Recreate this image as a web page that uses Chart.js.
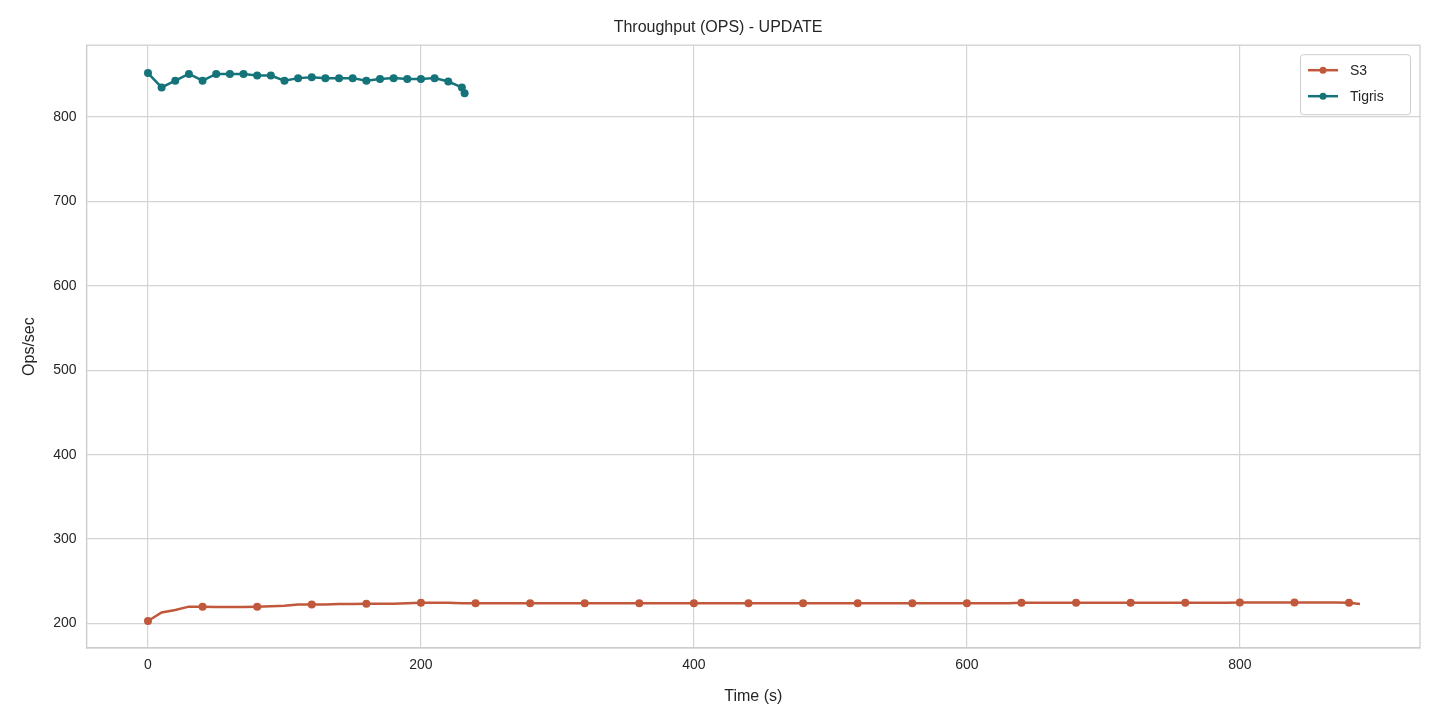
<!DOCTYPE html>
<html>
<head>
<meta charset="utf-8">
<script src="https://cdn.jsdelivr.net/npm/chart.js@4/dist/chart.umd.min.js"></script>
<style>
  html, body { margin: 0; padding: 0; background: #fff; }
  #wrap { width: 1440px; height: 720px; }
</style>
</head>
<body>
<div id="wrap"><canvas id="chart"></canvas></div>
<script>
// Tigris: samples every 10 s, last one at 232 s
const tigrisTime = [0, 10, 20, 30, 40, 50, 60, 70, 80, 90, 100, 110, 120, 130, 140, 150, 160, 170, 180, 190, 200, 210, 220, 230, 232];
const tigrisOps = [852, 835, 843, 851, 843, 851, 851, 851, 849, 849, 843, 846, 847, 846, 846, 846, 843, 845, 846, 845, 845, 846, 842, 835, 828];

// S3: samples every 10 s from 0 to 880, plus final at 888
const s3Ops = [
  203, 213, 216, 220, 220, 219.5, 219.5, 219.5, 220, 220.5,
  221, 222.5, 222.5, 222.5, 223, 223, 223.5, 223.5, 223.5, 224,
  224.5, 224.5, 224.5, 224, 224, 224, 224, 224, 224, 224,
  224, 224, 224, 224, 224, 224, 224, 224, 224, 224,
  224, 224, 224, 224, 224, 224, 224, 224, 224, 224,
  224, 224, 224, 224, 224, 224, 224, 224, 224, 224,
  224, 224, 224, 224, 224.5, 224.5, 224.5, 224.5, 224.5, 224.5,
  224.5, 224.5, 224.5, 224.5, 224.5, 224.5, 224.5, 224.5, 224.5, 224.5,
  225, 225, 225, 225, 225, 225, 225, 225, 224.5, 223
];
const s3Time = s3Ops.map((_, i) => (i < 89 ? i * 10 : 888));
const s3Markers = s3Time.map(t => (t % 40 === 0 && t <= 880 ? 4 : 0));

const xTicks = [0, 200, 400, 600, 800];
const yTicks = [200, 300, 400, 500, 600, 700, 800];

const s3Color = '#c1583b';
const tigrisColor = '#15747a';
const fontFam = '"Liberation Sans", Arial, sans-serif';

const frameAndLegend = {
  id: 'frameAndLegend',
  afterDraw(chart) {
    const c = chart.ctx;
    const area = chart.chartArea;
    c.save();
    c.strokeStyle = '#cccccc';
    c.lineWidth = 1.2;
    c.strokeRect(area.left, area.top, area.right - area.left, area.bottom - area.top);

    const w = 110, h = 60;
    const x = area.right - w - 10, y = area.top + 9;
    c.fillStyle = 'rgba(255,255,255,0.9)';
    c.lineWidth = 1;
    c.beginPath();
    c.roundRect(x + 0.5, y + 0.5, w, h, 3);
    c.fill();
    c.stroke();
    c.font = '14px ' + fontFam;
    c.textBaseline = 'middle';
    chart.data.datasets.forEach((ds, i) => {
      const ly = y + 16 + i * 26;
      c.strokeStyle = ds.borderColor;
      c.lineWidth = 2.5;
      c.beginPath();
      c.moveTo(x + 8, ly);
      c.lineTo(x + 38, ly);
      c.stroke();
      c.fillStyle = ds.borderColor;
      c.beginPath();
      c.arc(x + 23, ly, 3.5, 0, Math.PI * 2);
      c.fill();
      c.fillStyle = '#262626';
      c.fillText(ds.label, x + 50, ly + 1);
    });
    c.restore();
  }
};

new Chart(document.getElementById('chart').getContext('2d'), {
  type: 'line',
  data: {
    datasets: [
      {
        label: 'S3',
        data: s3Time.map((t, i) => ({ x: t, y: s3Ops[i] })),
        borderColor: s3Color,
        backgroundColor: s3Color,
        borderWidth: 2.5,
        pointRadius: s3Markers,
        pointBorderWidth: 0
      },
      {
        label: 'Tigris',
        data: tigrisTime.map((t, i) => ({ x: t, y: tigrisOps[i] })),
        borderColor: tigrisColor,
        backgroundColor: tigrisColor,
        borderWidth: 2.5,
        pointRadius: 4,
        pointBorderWidth: 0
      }
    ]
  },
  options: {
    responsive: true,
    maintainAspectRatio: false,
    animation: false,
    layout: { padding: { left: 16, right: 20, top: 6, bottom: 14 } },
    plugins: {
      legend: { display: false },
      tooltip: { enabled: false },
      title: {
        display: true,
        text: 'Throughput (OPS) - UPDATE',
        color: '#262626',
        font: { family: fontFam, size: 16, weight: 'normal' },
        padding: { top: 12, bottom: 8 }
      }
    },
    scales: {
      x: {
        type: 'linear',
        min: -45,
        max: 932,
        afterBuildTicks: ax => { ax.ticks = xTicks.map(v => ({ value: v })); },
        grid: { color: '#d4d4d4', lineWidth: 1.2, drawTicks: false },
        border: { color: '#cccccc', width: 1.2 },
        ticks: { color: '#262626', padding: 9, font: { family: fontFam, size: 14 } },
        title: { display: true, text: 'Time (s)', color: '#262626', font: { family: fontFam, size: 16 }, padding: { top: 4, bottom: 0 } }
      },
      y: {
        min: 171,
        max: 885,
        afterBuildTicks: ax => { ax.ticks = yTicks.map(v => ({ value: v })); },
        grid: { color: '#d4d4d4', lineWidth: 1.2, drawTicks: false },
        border: { color: '#cccccc', width: 1.2 },
        ticks: { color: '#262626', padding: 10, font: { family: fontFam, size: 14 } },
        title: { display: true, text: 'Ops/sec', color: '#262626', font: { family: fontFam, size: 16 } }
      }
    }
  },
  plugins: [frameAndLegend]
});
</script>
</body>
</html>
